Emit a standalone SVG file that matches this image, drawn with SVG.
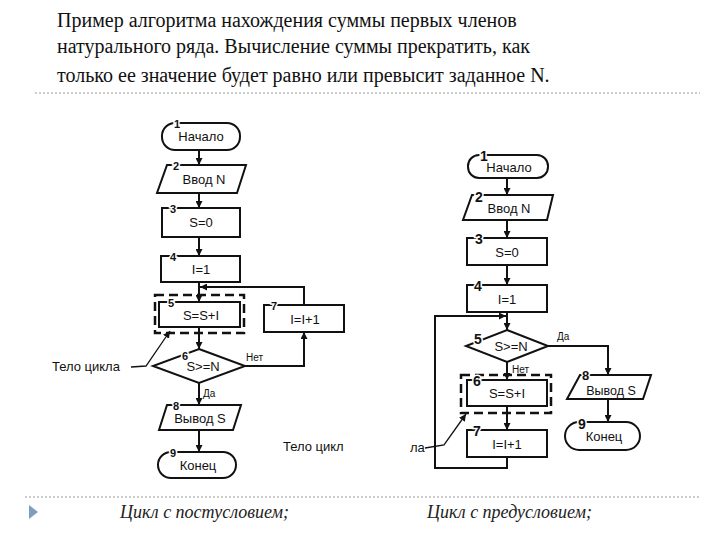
<svg xmlns="http://www.w3.org/2000/svg" width="720" height="540" viewBox="0 0 720 540">
<style>
.title{font-family:"Liberation Serif","DejaVu Serif",serif;font-size:20px;fill:#111}
.cap{font-family:"Liberation Serif","DejaVu Serif",serif;font-size:18px;font-style:italic;fill:#222}
.sh{fill:#fff;stroke:#111;stroke-width:2}
.dash{fill:none;stroke:#111;stroke-width:2.5;stroke-dasharray:9 5}
.t{font-family:"Liberation Sans","DejaVu Sans",sans-serif;font-size:13px;fill:#111;text-anchor:middle}
.n{font-family:"Liberation Sans","DejaVu Sans",sans-serif;font-size:11px;font-weight:bold;fill:#111;stroke:#fff;stroke-width:3;paint-order:stroke}
.nb{font-family:"Liberation Sans","DejaVu Sans",sans-serif;font-size:14px;font-weight:bold;fill:#111;stroke:#fff;stroke-width:3;paint-order:stroke}
.lbl{font-family:"Liberation Sans","DejaVu Sans",sans-serif;font-size:10px;fill:#111}
.note{font-family:"Liberation Sans","DejaVu Sans",sans-serif;font-size:13px;fill:#111}
.c{fill:none;stroke:#111;stroke-width:2}
.cl{fill:none;stroke:#111;stroke-width:1.3}
.sep{stroke:#999;stroke-width:1;stroke-dasharray:2 2}
</style>
<defs>
<marker id="ar" viewBox="0 0 10 10" refX="10" refY="5" markerWidth="7" markerHeight="7" markerUnits="userSpaceOnUse" orient="auto"><path d="M0,0 L10,5 L0,10 z" fill="#111"/></marker>
</defs>

<g id="title">
<text class="title" x="57" y="27">Пример алгоритма нахождения суммы первых членов</text>
<text class="title" x="57" y="53">натурального ряда. Вычисление суммы прекратить, как</text>
<text class="title" x="57" y="82">только ее значение будет равно или превысит заданное N.</text>
<line class="sep" x1="35" y1="93" x2="700" y2="93"/>
</g>

<g id="connectors">
<!-- left chart -->
<path class="c" d="M199,150 V165" marker-end="url(#ar)"/>
<path class="c" d="M199,193 V208" marker-end="url(#ar)"/>
<path class="c" d="M199,237 V256" marker-end="url(#ar)"/>
<path class="c" d="M199,282 V302" marker-end="url(#ar)"/>
<path class="c" d="M199,327 V349" marker-end="url(#ar)"/>
<path class="c" d="M199,383 V405" marker-end="url(#ar)"/>
<path class="c" d="M199,430 V452" marker-end="url(#ar)"/>
<path class="c" d="M245,366 H304 V332" marker-end="url(#ar)"/>
<path class="c" d="M304,305 V287 H200" marker-end="url(#ar)"/>
<path class="cl" d="M131,367 L146,366 L170,331" marker-end="url(#ar)"/>
<!-- right chart -->
<path class="c" d="M507,178 V195" marker-end="url(#ar)"/>
<path class="c" d="M507,220 V238" marker-end="url(#ar)"/>
<path class="c" d="M507,265 V285" marker-end="url(#ar)"/>
<path class="c" d="M507,312 V330" marker-end="url(#ar)"/>
<path class="c" d="M507,362 V380" marker-end="url(#ar)"/>
<path class="c" d="M507,406 V430" marker-end="url(#ar)"/>
<path class="c" d="M507,457 V468 H435 V316 H506" marker-end="url(#ar)"/>
<path class="c" d="M548,346 H608 V375" marker-end="url(#ar)"/>
<path class="c" d="M608,399 V422" marker-end="url(#ar)"/>
<path class="cl" d="M425,448 L444,445 L466,414" marker-end="url(#ar)"/>
</g>

<!-- left flowchart nodes -->
<g id="L1"><rect class="sh" x="162" y="123" width="78" height="27" rx="13"/><text class="t" x="201" y="141">Начало</text><text class="n" x="174" y="128">1</text></g>
<g id="L2"><polygon class="sh" points="167,165 246,165 237,193 157,193"/><text class="t" x="204" y="184">Ввод N</text><text class="n" x="173" y="170">2</text></g>
<g id="L3"><rect class="sh" x="162" y="208" width="78" height="29"/><text class="t" x="201" y="227">S=0</text><text class="n" x="170" y="213">3</text></g>
<g id="L4"><rect class="sh" x="161" y="256" width="79" height="26"/><text class="t" x="201" y="274">I=1</text><text class="n" x="170" y="261">4</text></g>
<g id="L5"><rect class="sh" x="159" y="302" width="81" height="25"/><rect class="dash" x="155" y="295" width="89" height="38"/><text class="t" x="201" y="320">S=S+I</text><text class="n" x="168" y="307">5</text></g>
<g id="L6"><polygon class="sh" points="199,349 245,366 199,383 153,366"/><text class="t" x="203" y="371">S&gt;=N</text><text class="n" x="182" y="360">6</text><text class="lbl" x="246" y="361">Нет</text><text class="lbl" x="203" y="397">Да</text></g>
<g id="L7"><rect class="sh" x="264" y="305" width="80" height="27"/><text class="t" x="305" y="324">I=I+1</text><text class="n" x="271" y="310">7</text></g>
<g id="L8"><polygon class="sh" points="167,405 241,405 233,430 159,430"/><text class="t" x="200" y="423">Вывод S</text><text class="n" x="173" y="410">8</text></g>
<g id="L9"><rect class="sh" x="158" y="452" width="78" height="26" rx="13"/><text class="t" x="198" y="470">Конец</text><text class="n" x="170" y="457">9</text></g>
<g id="Lnote"><text class="note" x="52" y="371">Тело цикла</text><text class="note" x="283" y="451">Тело цикл</text></g>

<!-- right flowchart nodes -->
<g id="R1"><rect class="sh" x="468" y="155" width="80" height="23" rx="11"/><text class="t" x="509" y="172">Начало</text><text class="nb" x="480" y="161">1</text></g>
<g id="R2"><polygon class="sh" points="472,195 553,195 547,220 463,220"/><text class="t" x="509" y="213">Ввод N</text><text class="nb" x="475" y="202">2</text></g>
<g id="R3"><rect class="sh" x="467" y="238" width="80" height="27"/><text class="t" x="507" y="257">S=0</text><text class="nb" x="475" y="244">3</text></g>
<g id="R4"><rect class="sh" x="467" y="285" width="80" height="27"/><text class="t" x="507" y="304">I=1</text><text class="nb" x="474" y="291">4</text></g>
<g id="R5"><polygon class="sh" points="507,330 548,346 507,362 466,346"/><text class="t" x="511" y="351">S&gt;=N</text><text class="nb" x="474" y="344">5</text><text class="lbl" x="557" y="340">Да</text><text class="lbl" x="512" y="373">Нет</text></g>
<g id="R6"><rect class="sh" x="467" y="380" width="80" height="26"/><rect class="dash" x="461" y="375" width="90" height="38"/><text class="t" x="507" y="398">S=S+I</text><text class="nb" x="473" y="386">6</text></g>
<g id="R7"><rect class="sh" x="467" y="430" width="80" height="27"/><text class="t" x="507" y="449">I=I+1</text><text class="nb" x="473" y="436">7</text></g>
<g id="R8"><polygon class="sh" points="580,375 651,375 643,399 567,399"/><text class="t" x="611" y="395" style="font-size:12.5px">Вывод S</text><text class="nb" x="582" y="380" style="font-size:13px">8</text></g>
<g id="R9"><rect class="sh" x="565" y="422" width="75" height="28" rx="14"/><text class="t" x="604" y="441">Конец</text><text class="nb" x="578" y="429">9</text></g>
<g id="Rnote"><text class="note" x="410" y="452">ла</text></g>

<g id="footer">
<line class="sep" x1="25" y1="497" x2="700" y2="497"/>
<polygon points="29,505 38,512 29,519" fill="#7f9cc2"/>
<text class="cap" x="120" y="518">Цикл с постусловием;</text>
<text class="cap" x="427" y="518">Цикл с предусловием;</text>
</g>
</svg>
